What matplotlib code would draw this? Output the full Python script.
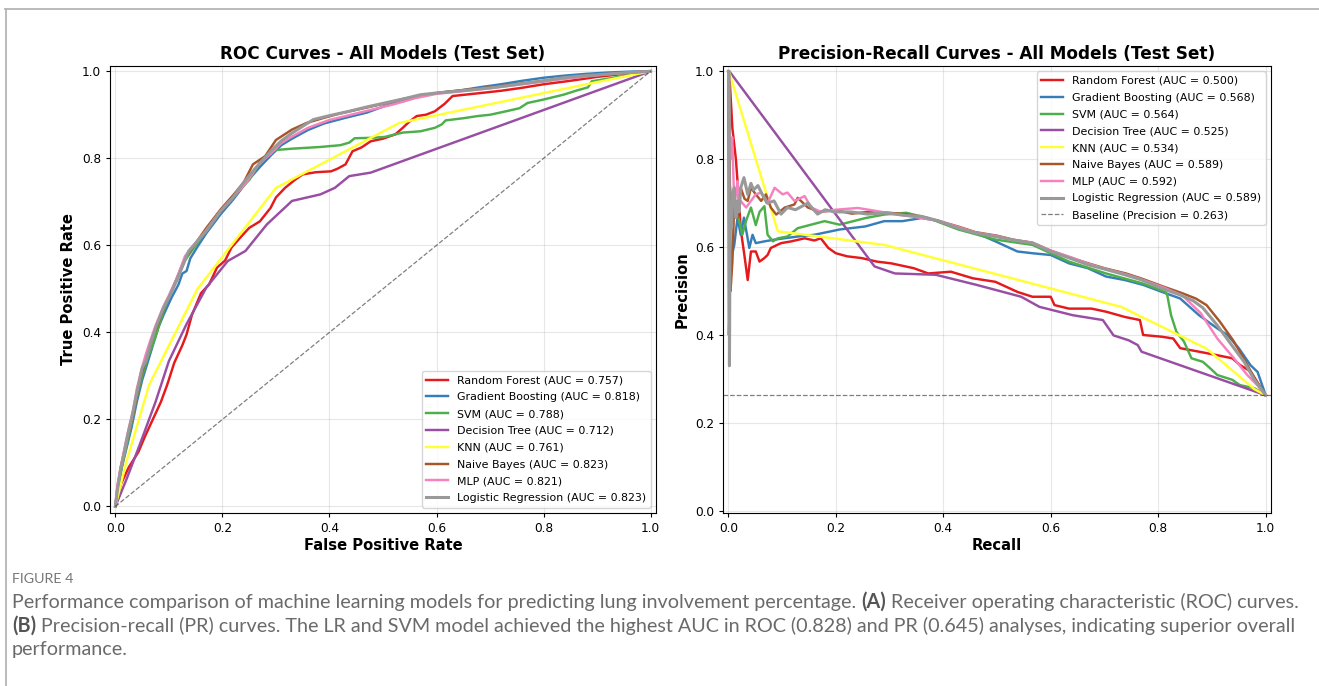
import matplotlib
matplotlib.use('Agg')
import matplotlib.pyplot as plt
from matplotlib.lines import Line2D

W, H = 1319, 686

models = ['Random Forest', 'Gradient Boosting', 'SVM', 'Decision Tree', 'KNN',
          'Naive Bayes', 'MLP', 'Logistic Regression']
colors = ['#e41a1c', '#377eb8', '#4daf4a', '#984ea3', '#ffff33',
          '#a65628', '#f781bf', '#999999']
roc_auc = [0.757, 0.818, 0.788, 0.712, 0.761, 0.823, 0.821, 0.823]
pr_auc = [0.500, 0.568, 0.564, 0.525, 0.534, 0.589, 0.592, 0.589]
baseline = 0.263

# ---- ROC curves ----
rf_fpr = [0, 0.01, 0.025, 0.043, 0.055, 0.07, 0.085, 0.097, 0.11, 0.125, 0.133, 0.143, 0.16, 0.175,
          0.19, 0.205, 0.217, 0.235, 0.25, 0.27, 0.29, 0.3, 0.317, 0.335, 0.35, 0.375, 0.403,
          0.415, 0.43, 0.443, 0.46, 0.477, 0.5, 0.523, 0.537, 0.55, 0.563, 0.58, 0.597, 0.615,
          0.63, 0.66, 0.683, 0.72, 0.76, 0.8, 0.85, 0.9, 0.95, 1.0]
rf_tpr = [0, 0.05, 0.09, 0.125, 0.16, 0.2, 0.24, 0.28, 0.33, 0.37, 0.395, 0.44, 0.49, 0.51,
          0.549, 0.565, 0.595, 0.62, 0.64, 0.655, 0.686, 0.71, 0.732, 0.75, 0.763, 0.768, 0.77,
          0.776, 0.786, 0.816, 0.825, 0.839, 0.845, 0.855, 0.87, 0.885, 0.897, 0.9, 0.908, 0.925,
          0.943, 0.947, 0.95, 0.955, 0.962, 0.97, 0.978, 0.987, 0.994, 1.0]

gb_fpr = [0, 0.005, 0.012, 0.02, 0.03, 0.04, 0.05, 0.06, 0.07, 0.08, 0.09, 0.105, 0.118, 0.125,
          0.133, 0.14, 0.155, 0.17, 0.197, 0.22, 0.245, 0.27, 0.29, 0.31, 0.33, 0.36, 0.39,
          0.43, 0.47, 0.503, 0.54, 0.57, 0.6, 0.64, 0.68, 0.72, 0.76, 0.8, 0.84, 0.88, 0.92,
          0.96, 1.0]
gb_tpr = [0, 0.04, 0.09, 0.13, 0.18, 0.24, 0.29, 0.33, 0.37, 0.41, 0.44, 0.48, 0.51, 0.535,
          0.541, 0.57, 0.6, 0.628, 0.672, 0.705, 0.745, 0.78, 0.806, 0.83, 0.845, 0.865, 0.88,
          0.893, 0.905, 0.92, 0.932, 0.944, 0.95, 0.955, 0.963, 0.97, 0.978, 0.985, 0.99, 0.994,
          0.997, 0.999, 1.0]

svm_fpr = [0, 0.005, 0.012, 0.02, 0.03, 0.04, 0.05, 0.06, 0.075, 0.09, 0.11, 0.13, 0.15, 0.17,
           0.197, 0.22, 0.25, 0.27, 0.29, 0.33, 0.383, 0.42, 0.437, 0.447, 0.48, 0.503, 0.537,
           0.57, 0.597, 0.61, 0.617, 0.65, 0.677, 0.7, 0.73, 0.755, 0.77, 0.8, 0.837, 0.86,
           0.883, 0.89, 0.95, 1.0]
svm_tpr = [0, 0.045, 0.09, 0.135, 0.19, 0.25, 0.3, 0.34, 0.39, 0.45, 0.51, 0.565, 0.6, 0.635,
           0.68, 0.712, 0.75, 0.79, 0.818, 0.822, 0.826, 0.83, 0.836, 0.846, 0.847, 0.849, 0.859,
           0.862, 0.87, 0.878, 0.887, 0.892, 0.897, 0.9, 0.908, 0.915, 0.927, 0.935, 0.946,
           0.955, 0.963, 0.977, 0.989, 1.0]

dt_fpr = [0, 0.02, 0.045, 0.075, 0.1, 0.133, 0.17, 0.21, 0.243, 0.283, 0.33, 0.383, 0.41,
          0.437, 0.477, 1.0]
dt_tpr = [0, 0.06, 0.14, 0.24, 0.334, 0.419, 0.503, 0.564, 0.587, 0.648, 0.702, 0.717, 0.732,
          0.759, 0.767, 1.0]

knn_fpr = [0, 0.02, 0.063, 0.153, 0.30, 0.53, 0.88, 1.0]
knn_tpr = [0, 0.1, 0.279, 0.499, 0.732, 0.881, 0.97, 1.0]

nb_fpr = [0, 0.004, 0.01, 0.018, 0.025, 0.033, 0.042, 0.05, 0.06, 0.07, 0.08, 0.09, 0.1, 0.115,
          0.13, 0.15, 0.17, 0.197, 0.22, 0.24, 0.257, 0.28, 0.3, 0.33, 0.357, 0.39, 0.42,
          0.46, 0.5, 0.54, 0.58, 0.62, 0.66, 0.7, 0.74, 0.78, 0.82, 0.86, 0.9, 0.95, 1.0]
nb_tpr = [0, 0.045, 0.09, 0.135, 0.17, 0.21, 0.265, 0.31, 0.345, 0.39, 0.42, 0.455, 0.48, 0.525,
          0.57, 0.605, 0.64, 0.683, 0.715, 0.745, 0.786, 0.805, 0.842, 0.866, 0.881, 0.893, 0.903,
          0.914, 0.925, 0.937, 0.946, 0.953, 0.958, 0.963, 0.969, 0.975, 0.981, 0.986, 0.991,
          0.996, 1.0]

mlp_fpr = [0, 0.004, 0.01, 0.018, 0.025, 0.033, 0.04, 0.05, 0.057, 0.065, 0.075, 0.09, 0.1,
           0.115, 0.13, 0.15, 0.17, 0.197, 0.22, 0.245, 0.27, 0.29, 0.31, 0.33, 0.36, 0.4, 0.44,
           0.48, 0.52, 0.56, 0.6, 0.64, 0.68, 0.72, 0.76, 0.8, 0.84, 0.88, 0.92, 0.96, 1.0]
mlp_tpr = [0, 0.05, 0.09, 0.14, 0.18, 0.22, 0.27, 0.32, 0.35, 0.38, 0.415, 0.46, 0.485, 0.525,
           0.575, 0.605, 0.635, 0.68, 0.71, 0.745, 0.79, 0.81, 0.835, 0.85, 0.87, 0.888, 0.9,
           0.912, 0.924, 0.938, 0.948, 0.953, 0.958, 0.964, 0.97, 0.976, 0.983, 0.988, 0.993,
           0.997, 1.0]

lr_fpr = [0, 0.004, 0.01, 0.018, 0.023, 0.03, 0.04, 0.05, 0.057, 0.065, 0.075, 0.09, 0.1,
          0.115, 0.137, 0.15, 0.17, 0.197, 0.22, 0.237, 0.26, 0.29, 0.31, 0.33, 0.37, 0.4,
          0.437, 0.47, 0.503, 0.54, 0.57, 0.6, 0.637, 0.67, 0.703, 0.74, 0.77, 0.8, 0.837,
          0.87, 0.903, 0.95, 1.0]
lr_tpr = [0, 0.04, 0.086, 0.13, 0.163, 0.2, 0.26, 0.318, 0.334, 0.37, 0.41, 0.457, 0.48, 0.52,
          0.587, 0.605, 0.633, 0.679, 0.71, 0.74, 0.775, 0.816, 0.84, 0.858, 0.889, 0.898,
          0.908, 0.918, 0.927, 0.937, 0.946, 0.95, 0.954, 0.958, 0.962, 0.968, 0.973, 0.978,
          0.985, 0.989, 0.992, 0.996, 1.0]

# ---- precision-recall curves ----
rf_rec = [0, 0.002, 0.0075, 0.014, 0.02, 0.023, 0.03, 0.036, 0.042, 0.051, 0.058, 0.067, 0.073,
          0.079, 0.098, 0.117, 0.142, 0.16, 0.172, 0.186, 0.2, 0.221, 0.248, 0.276, 0.303,
          0.345, 0.372, 0.414, 0.455, 0.497, 0.538, 0.566, 0.6, 0.607, 0.634, 0.676, 0.703,
          0.738, 0.766, 0.772, 0.807, 0.828, 0.841, 0.876, 0.91, 0.938, 0.952, 0.972, 1.0]
rf_prec = [1.0, 0.99, 0.87, 0.80, 0.70, 0.64, 0.58, 0.525, 0.59, 0.59, 0.567, 0.575, 0.582,
           0.598, 0.609, 0.613, 0.62, 0.615, 0.62, 0.598, 0.586, 0.579, 0.575, 0.567, 0.563,
           0.552, 0.54, 0.544, 0.529, 0.521, 0.498, 0.487, 0.487, 0.468, 0.46, 0.46, 0.453,
           0.441, 0.434, 0.40, 0.396, 0.392, 0.37, 0.362, 0.354, 0.347, 0.332, 0.317, 0.263]

gb_rec = [0, 0.001, 0.004, 0.011, 0.017, 0.023, 0.029, 0.039, 0.045, 0.051, 0.067, 0.086, 0.104,
          0.129, 0.16, 0.207, 0.255, 0.29, 0.324, 0.359, 0.39, 0.428, 0.469, 0.497, 0.538,
          0.566, 0.6, 0.634, 0.669, 0.703, 0.738, 0.772, 0.807, 0.841, 0.876, 0.91, 0.929,
          0.95, 0.972, 0.985, 1.0]
gb_prec = [1.0, 0.40, 0.567, 0.605, 0.667, 0.628, 0.667, 0.598, 0.628, 0.609, 0.613, 0.617,
           0.62, 0.624, 0.628, 0.64, 0.647, 0.659, 0.659, 0.666, 0.66, 0.643, 0.628, 0.613,
           0.59, 0.586, 0.582, 0.563, 0.552, 0.533, 0.525, 0.514, 0.498, 0.483, 0.445, 0.415,
           0.40, 0.37, 0.331, 0.316, 0.263]

svm_rec = [0, 0.002, 0.0075, 0.013, 0.02, 0.026, 0.033, 0.042, 0.051, 0.058, 0.067, 0.073,
           0.083, 0.092, 0.11, 0.129, 0.154, 0.179, 0.207, 0.255, 0.29, 0.331, 0.372, 0.428,
           0.497, 0.566, 0.634, 0.703, 0.772, 0.814, 0.817, 0.824, 0.834, 0.848, 0.862, 0.883,
           0.897, 0.91, 0.938, 0.952, 0.979, 1.0]
svm_prec = [1.0, 0.75, 0.68, 0.70, 0.66, 0.628, 0.66, 0.69, 0.65, 0.68, 0.693, 0.628, 0.613,
            0.62, 0.624, 0.643, 0.651, 0.659, 0.651, 0.666, 0.674, 0.678, 0.666, 0.64, 0.617,
            0.605, 0.567, 0.54, 0.517, 0.498, 0.49, 0.445, 0.407, 0.385, 0.347, 0.339, 0.324,
            0.309, 0.298, 0.286, 0.279, 0.263]

dt_rec = [0, 0.003, 0.272, 0.31, 0.386, 0.462, 0.545, 0.579, 0.641, 0.697, 0.717, 0.745, 0.762,
          0.769, 1.0]
dt_prec = [1.0, 0.998, 0.556, 0.54, 0.537, 0.514, 0.487, 0.464, 0.445, 0.434, 0.399, 0.388,
           0.377, 0.362, 0.263]

knn_rec = [0, 0.001, 0.092, 0.29, 0.731, 0.89, 0.98, 1.0]
knn_prec = [1.0, 1.0, 0.636, 0.605, 0.464, 0.369, 0.276, 0.263]

nb_rec = [0, 0.002, 0.004, 0.0075, 0.011, 0.017, 0.023, 0.03, 0.036, 0.042, 0.051, 0.061, 0.07,
          0.079, 0.089, 0.105, 0.123, 0.129, 0.148, 0.17, 0.2, 0.23, 0.26, 0.29, 0.33, 0.36,
          0.39, 0.43, 0.46, 0.5, 0.53, 0.566, 0.6, 0.635, 0.67, 0.7, 0.74, 0.77, 0.81, 0.845,
          0.87, 0.89, 0.915, 0.94, 0.96, 0.98, 1.0]
nb_prec = [1.0, 0.90, 0.50, 0.567, 0.705, 0.667, 0.735, 0.71, 0.705, 0.735, 0.72, 0.705, 0.72,
           0.69, 0.674, 0.69, 0.697, 0.712, 0.69, 0.68, 0.684, 0.676, 0.68, 0.679, 0.675, 0.669,
           0.66, 0.646, 0.634, 0.626, 0.617, 0.61, 0.592, 0.577, 0.563, 0.552, 0.54, 0.528,
           0.51, 0.495, 0.483, 0.468, 0.43, 0.387, 0.345, 0.30, 0.263]

mlp_rec = [0, 0.002, 0.004, 0.007, 0.011, 0.014, 0.017, 0.02, 0.023, 0.033, 0.042, 0.051, 0.061,
           0.073, 0.086, 0.101, 0.11, 0.123, 0.142, 0.154, 0.173, 0.2, 0.241, 0.276, 0.31, 0.35,
           0.39, 0.43, 0.46, 0.5, 0.53, 0.566, 0.6, 0.635, 0.67, 0.7, 0.74, 0.77, 0.81, 0.845,
           0.879, 0.91, 0.941, 0.965, 0.985, 1.0]
mlp_prec = [1.0, 0.87, 0.80, 0.85, 0.70, 0.72, 0.75, 0.69, 0.705, 0.69, 0.705, 0.72, 0.724, 0.70,
            0.735, 0.72, 0.724, 0.705, 0.716, 0.69, 0.68, 0.685, 0.689, 0.682, 0.675, 0.668,
            0.66, 0.645, 0.633, 0.625, 0.616, 0.61, 0.592, 0.578, 0.562, 0.551, 0.538, 0.526,
            0.508, 0.49, 0.45, 0.392, 0.347, 0.31, 0.285, 0.263]

lr_rec = [0, 0.0015, 0.002, 0.003, 0.004, 0.006, 0.008, 0.011, 0.014, 0.017, 0.02, 0.023, 0.029,
          0.036, 0.042, 0.047, 0.055, 0.063, 0.072, 0.085, 0.098, 0.11, 0.125, 0.148, 0.166,
          0.18, 0.197, 0.228, 0.26, 0.29, 0.33, 0.359, 0.39, 0.428, 0.46, 0.497, 0.53, 0.566,
          0.6, 0.635, 0.669, 0.7, 0.738, 0.77, 0.807, 0.841, 0.865, 0.883, 0.91, 0.935, 0.96,
          0.978, 1.0]
lr_prec = [1.0, 1.0, 0.33, 0.60, 0.697, 0.644, 0.72, 0.735, 0.667, 0.705, 0.68, 0.735, 0.758,
           0.72, 0.745, 0.73, 0.74, 0.72, 0.70, 0.705, 0.675, 0.69, 0.685, 0.70, 0.675, 0.685,
           0.68, 0.68, 0.675, 0.678, 0.672, 0.67, 0.66, 0.643, 0.632, 0.624, 0.616, 0.609, 0.59,
           0.575, 0.56, 0.55, 0.537, 0.525, 0.506, 0.491, 0.478, 0.462, 0.422, 0.38, 0.339, 0.30,
           0.263]

roc_x = [rf_fpr, gb_fpr, svm_fpr, dt_fpr, knn_fpr, nb_fpr, mlp_fpr, lr_fpr]
roc_y = [rf_tpr, gb_tpr, svm_tpr, dt_tpr, knn_tpr, nb_tpr, mlp_tpr, lr_tpr]
pr_x = [rf_rec, gb_rec, svm_rec, dt_rec, knn_rec, nb_rec, mlp_rec, lr_rec]
pr_y = [rf_prec, gb_prec, svm_prec, dt_prec, knn_prec, nb_prec, mlp_prec, lr_prec]

fig = plt.figure(figsize=(W / 100, H / 100), dpi=100)
ax1 = fig.add_axes([110 / W, 1 - 513 / H, 546 / W, 447 / H])
ax2 = fig.add_axes([723 / W, 1 - 513 / H, 548 / W, 447 / H])

for i, name in enumerate(models):
    lw = 2.2 if name == 'Logistic Regression' else 1.75
    ax1.plot(roc_x[i], roc_y[i], color=colors[i], lw=lw,
             label='%s (AUC = %.3f)' % (name, roc_auc[i]))
    ax2.plot(pr_x[i], pr_y[i], color=colors[i], lw=lw,
             label='%s (AUC = %.3f)' % (name, pr_auc[i]))

ax1.plot([0, 1], [0, 1], 'k--', lw=0.9, alpha=0.5)
ax2.axhline(baseline, color='k', ls='--', lw=0.9, alpha=0.5,
            label='Baseline (Precision = %.3f)' % baseline)

ax1.set_xlim(-0.01, 1.01)
ax1.set_ylim(-0.015, 1.012)
ax2.set_xlim(-0.01, 1.01)
ax2.set_ylim(-0.005, 1.012)

ax1.set_title('ROC Curves - All Models (Test Set)', fontsize=12.2, fontweight='bold', pad=5)
ax2.set_title('Precision-Recall Curves - All Models (Test Set)', fontsize=12.2,
              fontweight='bold', pad=5)
ax1.set_xlabel('False Positive Rate', fontsize=10.6, fontweight='bold', labelpad=2)
ax1.set_ylabel('True Positive Rate', fontsize=10.6, fontweight='bold')
ax2.set_xlabel('Recall', fontsize=10.6, fontweight='bold', labelpad=2)
ax2.set_ylabel('Precision', fontsize=10.6, fontweight='bold')

for ax in (ax1, ax2):
    ax.grid(True, alpha=0.3)
    ax.tick_params(labelsize=8.7, length=3)
ax1.legend(loc='lower right', fontsize=7.9, labelspacing=0.62)
ax2.legend(loc='upper right', fontsize=7.9, labelspacing=0.62)

# frame of the figure panel
fig.add_artist(Line2D([5 / W, 1], [1 - 9 / H, 1 - 9 / H], color='#b5b5b5', lw=1.3))
fig.add_artist(Line2D([5.5 / W, 5.5 / W], [0, 1 - 9 / H], color='#b5b5b5', lw=1.3))

# caption
renderer = fig.canvas.get_renderer()
cap_font = 'Lato'


def put_line(parts, x_px, y_px, size):
    x = x_px
    for s, bold in parts:
        t = fig.text(x / W, 1 - y_px / H, s, fontsize=size, family=cap_font,
                     fontweight='bold' if bold else 'normal',
                     color='#555555' if bold else '#6a6a6a', va='baseline', ha='left')
        x += t.get_window_extent(renderer).width
    return x


line1 = [('Performance comparison of machine learning models for predicting lung involvement '
          'percentage. ', False), ('(A)', True),
         (' Receiver operating characteristic (ROC) curves.', False)]
line2 = [('(B)', True), (' Precision-recall (PR) curves. The LR and SVM model achieved the highest '
                         'AUC in ROC (0.828) and PR (0.645) analyses, indicating superior overall',
                         False)]
line3 = [('performance.', False)]

# size the caption so the first line fills the same width as in the figure
probe = fig.text(0, 0, ''.join(p[0] for p in line1), fontsize=12, family=cap_font)
w1 = probe.get_window_extent(renderer).width
probe.remove()
cap_size = 12 * 1285 / w1

fig.text(12 / W, 1 - 583 / H, 'FIGURE 4', fontsize=cap_size * 0.72, family=cap_font,
         color='#777777', va='baseline')
put_line(line1, 12, 608, cap_size)
put_line(line2, 12, 632, cap_size)
put_line(line3, 12, 655, cap_size)

fig.savefig('out.png', dpi=100)
